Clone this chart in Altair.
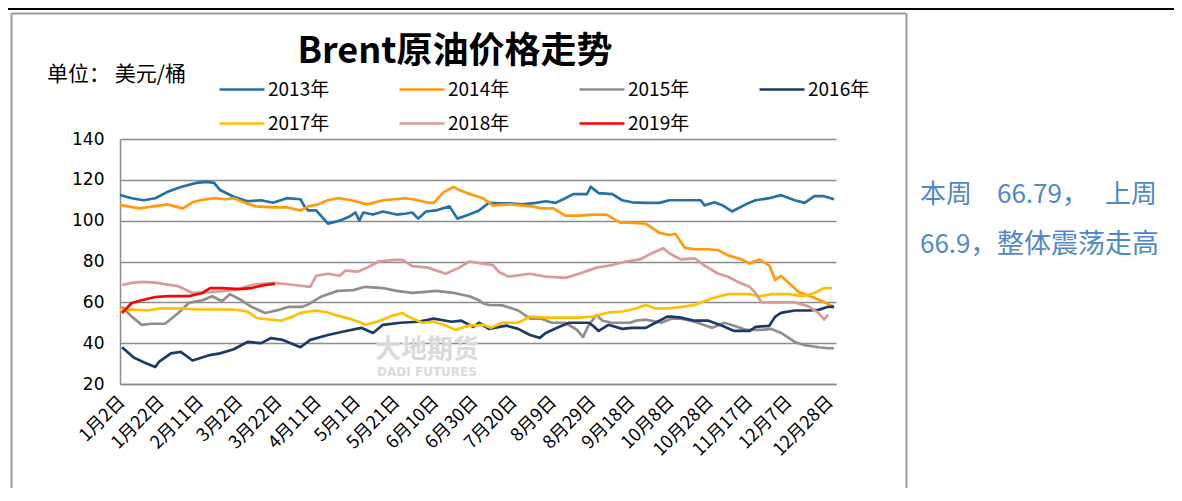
import altair as alt
import pandas as pd

years = ["2013年", "2014年", "2015年", "2016年", "2017年", "2018年", "2019年"]
colors = ["#2272A8", "#FF9A0A", "#8E8E8E", "#1B3A68", "#FFC000", "#DA9A98", "#FF0000"]
widths = [2.7, 2.7, 2.7, 2.7, 2.7, 2.7, 4.5]

tick_days = [2, 22, 42, 62, 82, 102, 122, 142, 162, 182, 202, 222, 242, 262, 282, 302, 322, 342, 363]
tick_labels = ["1月2日", "1月22日", "2月11日", "3月2日", "3月22日", "4月11日", "5月1日", "5月21日",
               "6月10日", "6月30日", "7月20日", "8月9日", "8月29日", "9月18日", "10月8日",
               "10月28日", "11月17日", "12月7日", "12月28日"]
y_ticks = [20, 40, 60, 80, 100, 120, 140]

days_2013 = [1, 7, 13, 19, 25, 32, 40, 45, 49, 52, 59, 66, 73, 79, 86, 93, 95, 97, 101, 107, 113, 118, 121, 123,
             125, 130, 135, 142, 147, 150, 153, 157, 162, 169, 173, 179, 184, 189, 195, 200, 206, 213, 218, 223,
             228, 232, 239, 241, 245, 252, 257, 262, 269, 276, 281, 290, 297, 299, 304, 308, 313, 320, 325, 332,
             338, 345, 350, 355, 360, 365]
vals_2013 = [112.6, 111, 110, 111, 114, 116.5, 118.5, 119, 118.5, 115, 111.7, 109.5, 110, 108.8, 111, 110.5, 107,
             105, 105, 98.5, 100, 102, 104, 100, 104, 103, 104.5, 103, 103.5, 104, 101, 104.5, 105, 107, 101, 103,
             105, 108.7, 108.5, 108.5, 108, 108.7, 109.5, 108.7, 111, 113, 113, 116.6, 113.5, 113, 110, 109, 108.7,
             108.7, 110, 110, 110, 107.5, 109, 107.6, 104.5, 108, 110, 111, 112.5, 110, 108.7, 112, 112, 110.5]

days_2014 = [1, 5, 11, 18, 25, 33, 38, 42, 49, 55, 59, 64, 70, 79, 86, 93, 97, 102, 107, 112, 119, 127, 135, 141,
             147, 153, 157, 161, 166, 171, 174, 178, 186, 191, 200, 211, 216, 222, 228, 235, 242, 249, 256, 261,
             269, 276, 281, 284, 289, 294, 301, 306, 311, 318, 322, 327, 332, 335, 338, 342, 347, 354, 360, 365]
vals_2014 = [107.7, 107, 106, 107, 108, 106, 109, 110, 111, 110.5, 111, 109, 107, 106.5, 106.5, 105, 107, 108, 110,
             111, 110, 108, 110, 110.5, 111, 110, 109, 108.7, 114, 116.5, 115, 113.5, 111, 107.5, 108, 107, 106,
             106, 102.5, 102.5, 103, 103, 99, 99, 98.5, 94, 93, 93.6, 86.7, 86, 86, 85.5, 83, 81, 79, 81, 78, 71,
             72.9, 69.5, 65, 62.6, 60, 57.8]

days_2015 = [2, 7, 12, 17, 24, 31, 36, 43, 48, 53, 57, 63, 68, 75, 82, 87, 94, 97, 104, 112, 120, 126, 135, 142,
             150, 155, 162, 171, 179, 184, 186, 189, 196, 204, 210, 216, 221, 228, 234, 237, 240, 244, 247, 252,
             261, 264, 269, 277, 282, 287, 294, 303, 309, 314, 320, 328, 333, 338, 345, 350, 357, 362, 365]
vals_2015 = [57.8, 53, 49, 49.5, 49.5, 55, 59.7, 61, 63, 60.5, 64, 61, 57.8, 54.8, 56.3, 57.8, 57.8, 59, 63, 65.6,
             66, 67.6, 67, 65.6, 64.6, 65, 65.6, 64.6, 63, 61, 59.6, 58.7, 58.5, 56, 52, 52, 50, 50, 46.5, 43, 49,
             53.8, 51, 50, 50, 51, 51.5, 50, 52, 52, 50.5, 47.5, 50, 48.5, 46.5, 46.5, 47, 45, 40.6, 39, 38, 37.5,
             37.5]

days_2016 = [2, 8, 13, 19, 21, 27, 32, 38, 46, 52, 59, 66, 73, 78, 84, 93, 98, 107, 115, 124, 130, 135, 144, 153,
             161, 170, 175, 181, 184, 189, 198, 204, 210, 215, 218, 225, 230, 240, 242, 245, 250, 257, 262, 269,
             274, 280, 282, 287, 294, 301, 308, 314, 322, 325, 332, 335, 338, 345, 352, 357, 362, 365]
vals_2016 = [38, 33, 30.7, 28.3, 31, 35, 35.7, 31.5, 34, 35, 37, 40.6, 40, 42.5, 41.6, 38, 41.6, 44, 45.7, 47.5,
             45, 49, 50, 50.5, 52, 50.5, 51, 48, 50, 47, 48.6, 47, 44, 42.6, 45, 48, 50, 50, 48.6, 46, 49, 47, 47.5,
             47.5, 50, 53, 53, 52.5, 51, 51, 48.5, 46, 46, 48, 48.5, 53, 54.8, 56, 56, 56.3, 57.8, 57.8]

days_2017 = [1, 8, 15, 22, 33, 40, 50, 59, 66, 71, 83, 89, 93, 101, 107, 110, 118, 124, 126, 132, 135, 140, 145,
             148, 155, 161, 166, 171, 172, 179, 186, 190, 196, 204, 210, 218, 228, 235, 242, 249, 257, 264, 269,
             274, 281, 287, 294, 303, 311, 322, 327, 333, 342, 349, 355, 360, 364]
vals_2017 = [56.3, 56.5, 56, 57, 57, 56.5, 56.5, 56.5, 55.5, 52.2, 51, 53, 54.8, 56, 55, 54, 52, 50, 49, 50.5,
             51.6, 53.5, 54.8, 53, 50, 50.5, 49, 47, 46.5, 48.6, 49, 47.5, 50, 50, 53, 52.5, 52.5, 52.5, 53, 54.8,
             55.5, 57, 58.7, 57, 57, 57.8, 58.7, 62, 64, 64, 63, 64, 64, 63, 64.6, 67, 67]

days_2018 = [2, 7, 13, 20, 31, 38, 41, 47, 59, 69, 79, 89, 94, 98, 101, 107, 113, 116, 122, 127, 133, 141, 145,
             150, 158, 167, 174, 179, 186, 191, 194, 199, 210, 218, 228, 235, 244, 252, 259, 266, 272, 278, 281,
             287, 294, 299, 306, 311, 316, 322, 325, 328, 338, 345, 352, 357, 360, 362]
vals_2018 = [68.5, 69.5, 70, 69.5, 67.8, 64.6, 64.6, 65, 66, 68.6, 69.6, 68.6, 68, 67.6, 73, 74, 73, 75.6, 75,
             77, 80, 80.8, 80.8, 77.7, 77, 74, 77, 80, 79, 78.3, 75, 72.6, 74, 72.6, 72, 74, 77, 78.3, 80, 81, 84,
             86.5, 84, 81, 81.5, 78, 74, 72.5, 70, 67.6, 64.6, 60, 60, 60, 58, 54.8, 51.6, 54]

days_2019 = [2, 7, 12, 19, 26, 36, 43, 47, 53, 62, 68, 75, 80]
vals_2019 = [54.8, 59.7, 61, 62.6, 63, 63, 64.6, 67, 67, 66.5, 67, 68.5, 69]

series = [days_2013, days_2014, days_2015, days_2016, days_2017, days_2018, days_2019]
values = [vals_2013, vals_2014, vals_2015, vals_2016, vals_2017, vals_2018, vals_2019]

rows = []
for yr, ds, vs in zip(years, series, values):
    for d, v in zip(ds, vs):
        rows.append({"year": yr, "day": d, "price": v})
df = pd.DataFrame(rows)

label_expr = "[" + ",".join("'%s'" % t for t in tick_labels) + "][indexof([" + \
    ",".join(str(d) for d in tick_days) + "], datum.value)]"

GRID = "#8C8C8C"
CJK = "Noto Sans CJK SC"
NOTE = "#5088C8"

legend_kw = dict(title=None, orient="none", legendX=98, legendY=-73.5, direction="horizontal",
                 columns=4, symbolType="stroke", symbolSize=2025, labelFontSize=19, labelFont=CJK,
                 labelColor="#000000", columnPadding=64, rowPadding=-7, labelOffset=2)

lines = alt.Chart(df).mark_line(strokeJoin="round").encode(
    x=alt.X("day:Q", scale=alt.Scale(domain=[1, 366], nice=False, zero=False),
            axis=alt.Axis(values=tick_days, labelExpr=label_expr, title=None, grid=False, ticks=False,
                          labelAngle=-45, labelAlign="right", labelBaseline="middle", labelPadding=15,
                          labelFontSize=18, labelFont=CJK, labelColor="#000000", labelOverlap=False,
                          domainColor=GRID, domainWidth=1.5)),
    y=alt.Y("price:Q", scale=alt.Scale(domain=[20, 140], nice=False, zero=False),
            axis=alt.Axis(values=y_ticks, title=None, grid=True, gridColor=GRID, gridWidth=1.5,
                          ticks=False, domainColor=GRID, domainWidth=1.5, labelPadding=16,
                          labelFontSize=17, labelFont="DejaVu Sans", labelColor="#000000")),
    color=alt.Color("year:N", scale=alt.Scale(domain=years, range=colors), legend=alt.Legend(**legend_kw)),
    strokeWidth=alt.StrokeWidth("year:N", scale=alt.Scale(domain=years, range=widths),
                                legend=alt.Legend(**legend_kw)),
)


def text_layer(txt, x, y, size, color="#000000", font=CJK, weight="normal", align="left"):
    return alt.Chart(pd.DataFrame({"t": [txt]})).mark_text(
        fontSize=size, font=font, fontWeight=weight, color=color, align=align, baseline="middle"
    ).encode(text="t:N", x=alt.value(x), y=alt.value(y))


def rule_layer(x, x2, y, y2, color, width):
    return alt.Chart(pd.DataFrame({"a": [0]})).mark_rule(color=color, strokeWidth=width).encode(
        x=alt.value(x), x2=alt.value(x2), y=alt.value(y), y2=alt.value(y2))


title = text_layer("Brent原油价格走势", 335, -87, 36, weight="bold", align="center")
unit = text_layer("单位： 美元/桶", -73, -64, 21)
note_a = text_layer("本周", 800, 56, 26, color=NOTE)
note_b = text_layer("66.79，", 877, 56, 26, color=NOTE)
note_c = text_layer("上周", 985, 56, 26, color=NOTE)
note_d = text_layer("66.9，", 800, 106, 26, color=NOTE)
note_e = text_layer("整体震荡走高", 877, 106, 27, color=NOTE)
wm1 = text_layer("大地期货", 307, 211, 26, color="#DADADA", weight="bold", align="center")
wm2 = text_layer("DADI FUTURES", 307, 233, 12, color="#DADADA", font="DejaVu Sans", weight="bold",
                 align="center")

top_line = rule_layer(-120, 1062, -130.5, -130.5, "#000000", 3)
frame_l = rule_layer(-108.5, -108.5, -125.5, 360, "#9A9A9A", 2)
frame_t = rule_layer(-108.5, 786.5, -125.5, -125.5, "#9A9A9A", 2)
frame_r = rule_layer(786.5, 786.5, -125.5, 360, "#9A9A9A", 2)

chart = alt.layer(
    top_line, frame_l, frame_t, frame_r, wm1, wm2, lines, title, unit,
    note_a, note_b, note_c, note_d, note_e
).properties(
    width=716, height=245,
    padding={"left": 112, "top": 131, "right": 338, "bottom": 104},
    autosize=alt.AutoSizeParams(type="none"),
).configure_view(stroke=None)

chart.save("out.html", embed_options={"renderer": "svg", "actions": False})
